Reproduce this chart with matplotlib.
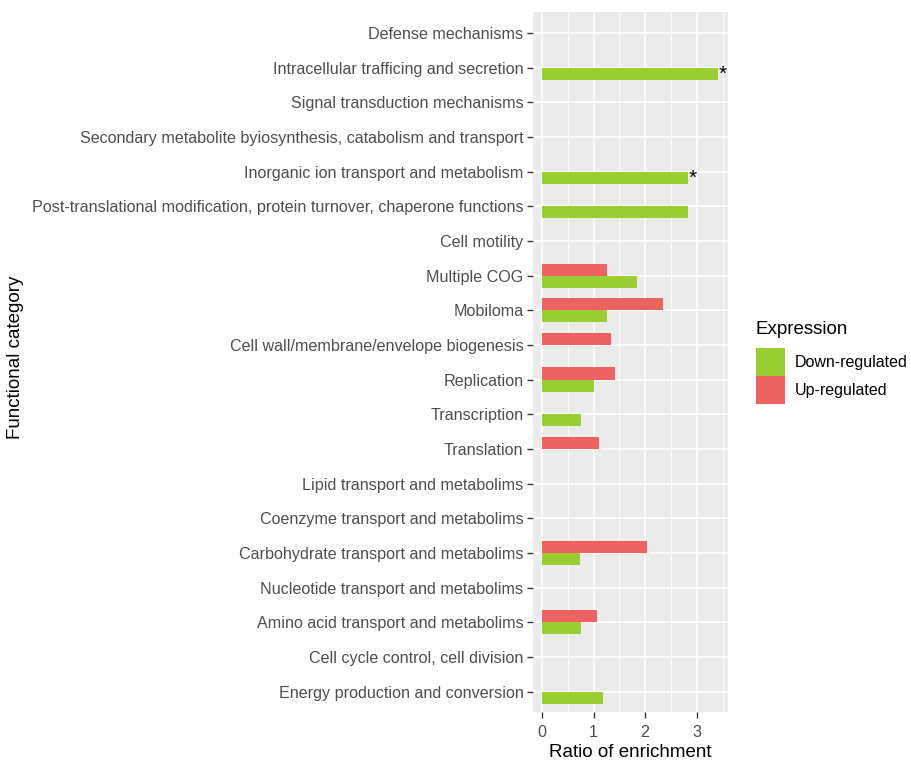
import numpy as np
import matplotlib
matplotlib.use("Agg")
import matplotlib.pyplot as plt
from matplotlib.patches import Patch

plt.rcParams['font.family'] = ['Liberation Sans', 'DejaVu Sans']

# Functional categories, listed from top to bottom
categories = [
    "Defense mechanisms",
    "Intracellular trafficing and secretion",
    "Signal transduction mechanisms",
    "Secondary metabolite byiosynthesis, catabolism and transport",
    "Inorganic ion transport and metabolism",
    "Post-translational modification, protein turnover, chaperone functions",
    "Cell motility",
    "Multiple COG",
    "Mobiloma",
    "Cell wall/membrane/envelope biogenesis",
    "Replication",
    "Transcription",
    "Translation",
    "Lipid transport and metabolims",
    "Coenzyme transport and metabolims",
    "Carbohydrate transport and metabolims",
    "Nucleotide transport and metabolims",
    "Amino acid transport and metabolims",
    "Cell cycle control, cell division",
    "Energy production and conversion",
]

down_regulated = [0, 3.41, 0, 0, 2.83, 2.83, 0, 1.84, 1.26, 0,
                  1.00, 0.76, 0, 0, 0, 0.73, 0, 0.76, 0, 1.18]
up_regulated = [0, 0, 0, 0, 0, 0, 0, 1.26, 2.35, 1.34,
                1.41, 0, 1.11, 0, 0, 2.04, 0, 1.06, 0, 0]
# Categories flagged as significant
significant = ["Intracellular trafficing and secretion",
               "Inorganic ion transport and metabolism"]

x_ticks = [0, 1, 2, 3]
legend_title = "Expression"
legend_labels = ["Down-regulated", "Up-regulated"]

GREEN = "#9ACD32"
RED = "#EF6262"
PANEL = "#EBEBEB"
TEXT_GREY = "#4D4D4D"

W, H = 912, 762
fig = plt.figure(figsize=(W / 100, H / 100), dpi=100)
left, right, top, bottom = 533.3, 727.7, 12.3, 712.3
ax = fig.add_axes([left / W, 1 - bottom / H, (right - left) / W, (bottom - top) / H])

n = len(categories)
ypos = np.arange(n)[::-1]  # first category at the top
down = np.array(down_regulated)
up = np.array(up_regulated)
bw = 0.35

md = down > 0
mu = up > 0
ax.barh(ypos[md] - bw / 2, down[md], height=bw, color=GREEN, zorder=3)
ax.barh(ypos[mu] + bw / 2, up[mu], height=bw, color=RED, zorder=3)

for name in significant:
    i = categories.index(name)
    ax.text(down[i] + 0.01, ypos[i] - bw / 2 - 0.02, "*", ha="left", va="center",
            fontsize=15, color="black", zorder=4)

ax.set_facecolor(PANEL)
ax.set_xlim(-0.171, 3.6)
ax.set_ylim(-0.6, n - 1 + 0.6)
ax.set_yticks(ypos)
ax.set_yticklabels(categories)
ax.set_xticks(x_ticks)
ax.set_xticks(np.array(x_ticks) + 0.5, minor=True)
ax.set_xticklabels([str(t) for t in x_ticks])

ax.grid(True, which="major", axis="both", color="white", linewidth=1.2, zorder=0)
ax.grid(True, which="minor", axis="x", color="white", linewidth=0.6, zorder=0)
ax.set_axisbelow(True)
for s in ax.spines.values():
    s.set_visible(False)

ax.tick_params(axis="both", which="major", length=4, width=1, color="#333333",
               labelsize=11.6, labelcolor=TEXT_GREY, pad=3)
ax.tick_params(axis="x", which="major", pad=5)
ax.tick_params(axis="both", which="minor", length=0)

ax.set_xlabel("Ratio of enrichment", fontsize=13.5, color="black", labelpad=3)
fig.text(16 / W, 1 - 357 / H, "Functional category", rotation=90,
         ha="center", va="center", fontsize=13.5, color="black")

handles = [Patch(facecolor=GREEN, edgecolor="none"),
           Patch(facecolor=RED, edgecolor="none")]
fig.text(756 / W, 1 - 330 / H, legend_title, ha="left", va="center",
         fontsize=13.5, color="black")
leg = fig.legend(handles, legend_labels,
                 loc="upper left", bbox_to_anchor=(756 / W, 1 - 347.7 / H),
                 frameon=False, fontsize=11.5,
                 handlelength=1.81, handleheight=2.32, labelspacing=0.05,
                 handletextpad=0.6, borderpad=0, borderaxespad=0)

fig.savefig("out.png", dpi=100)
